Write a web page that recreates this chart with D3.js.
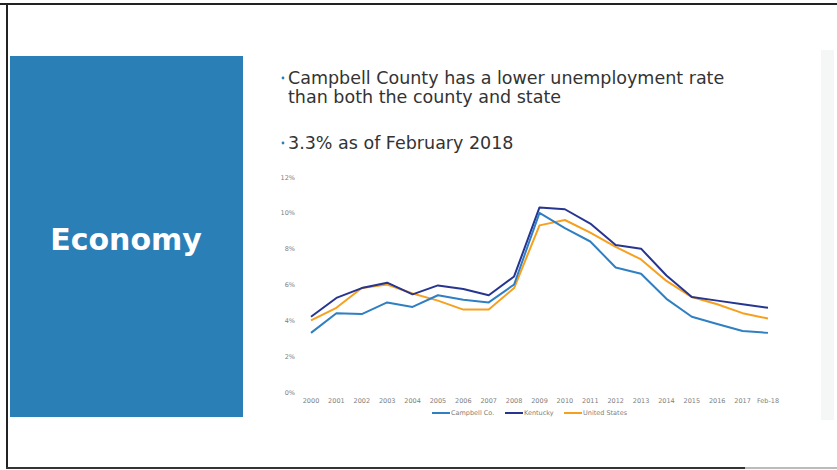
<!DOCTYPE html>
<html>
<head>
<meta charset="utf-8">
<script src="https://cdn.jsdelivr.net/npm/d3@7/dist/d3.min.js"></script>
<style>
  html, body { margin: 0; padding: 0; background: #fff; }
  svg { display: block; }
</style>
</head>
<body>
<div id="slide"></div>
<script>
//data
var years = ['2000','2001','2002','2003','2004','2005','2006','2007','2008','2009',
             '2010','2011','2012','2013','2014','2015','2016','2017','Feb-18'];
var campbell = [3.3, 4.4, 4.35, 5.0, 4.75, 5.4, 5.15, 5.0, 6.0, 10.0, 9.15, 8.4, 6.95, 6.6, 5.2, 4.2, 3.8, 3.4, 3.3];
var kentucky = [4.2, 5.25, 5.8, 6.1, 5.45, 5.95, 5.75, 5.4, 6.45, 10.3, 10.2, 9.4, 8.2, 8.0, 6.5, 5.3, 5.1, 4.9, 4.7];
var usa = [4.0, 4.7, 5.8, 6.0, 5.5, 5.1, 4.6, 4.6, 5.8, 9.3, 9.6, 8.9, 8.1, 7.4, 6.2, 5.3, 4.9, 4.4, 4.1];
var yTicks = [0, 2, 4, 6, 8, 10, 12];
var seriesNames = ['Campbell Co.', 'Kentucky', 'United States'];
//end data

var W = 837, H = 470;
var colors = ['#2f7fc2', '#263590', '#f6a01e'];

var svg = d3.select('#slide').append('svg')
    .attr('width', W)
    .attr('height', H);

// slide frame
svg.append('line').attr('x1', 0).attr('x2', W).attr('y1', 4).attr('y2', 4)
    .attr('stroke', '#222').attr('stroke-width', 2);
svg.append('line').attr('x1', 7).attr('x2', 7).attr('y1', 3).attr('y2', 469)
    .attr('stroke', '#222').attr('stroke-width', 2);
svg.append('line').attr('x1', 6).attr('x2', 745).attr('y1', 468).attr('y2', 468)
    .attr('stroke', '#333').attr('stroke-width', 2);
svg.append('line').attr('x1', 745).attr('x2', W).attr('y1', 468).attr('y2', 468)
    .attr('stroke', '#bbb').attr('stroke-width', 2);

// faint scanned strip on the right
svg.append('rect').attr('x', 821).attr('y', 50).attr('width', 13).attr('height', 370)
    .attr('fill', '#f5f6f6');

// title box
svg.append('rect').attr('x', 10).attr('y', 56).attr('width', 233).attr('height', 361)
    .attr('fill', '#2b7fb7');
svg.append('text')
    .attr('x', 126).attr('y', 250)
    .attr('text-anchor', 'middle')
    .attr('fill', '#fff')
    .style('font-family', 'DejaVu Sans, sans-serif')
    .style('font-weight', 'bold')
    .style('font-size', '30px')
    .text('Economy');

// bullets
var bullets = [
    {y: 84, lines: ['Campbell County has a lower unemployment rate', 'than both the county and state']},
    {y: 149, lines: ['3.3% as of February 2018']}
];
var gBul = svg.append('g')
    .style('font-family', 'DejaVu Sans, sans-serif')
    .style('font-size', '17.5px')
    .attr('fill', '#333');
bullets.forEach(function(b){
    gBul.append('circle').attr('cx', 283).attr('cy', b.y - 6).attr('r', 1.4).attr('fill', '#2b7fb7');
    b.lines.forEach(function(l, i){
        gBul.append('text').attr('x', 288).attr('y', b.y + i * 18.7).text(l);
    });
});

// chart scales
var x = d3.scalePoint().domain(years).range([311, 768]);
var y = d3.scaleLinear().domain([0, 12]).range([392, 177]);

var gChart = svg.append('g')
    .style('font-family', 'DejaVu Sans, sans-serif')
    .style('font-size', '6.5px')
    .attr('fill', '#808080');

gChart.selectAll('text.ytick')
    .data(yTicks)
    .enter().append('text')
    .attr('class', 'ytick')
    .attr('x', 295)
    .attr('y', function(d){ return y(d) + 2.5; })
    .attr('text-anchor', 'end')
    .text(function(d){ return d + '%'; });

gChart.selectAll('text.xtick')
    .data(years)
    .enter().append('text')
    .attr('class', 'xtick')
    .attr('x', function(d){ return x(d); })
    .attr('y', 403)
    .attr('text-anchor', 'middle')
    .text(function(d){ return d; });

var lineFunc = d3.line()
    .x(function(d, i){ return x(years[i]); })
    .y(function(d){ return y(d); });

var allSeries = [campbell, kentucky, usa];
// draw orange first, then navy, then light blue on top
[2, 1, 0].forEach(function(k){
    gChart.append('path')
        .datum(allSeries[k])
        .attr('fill', 'none')
        .attr('stroke', colors[k])
        .attr('stroke-width', 2)
        .attr('stroke-linejoin', 'round')
        .attr('d', lineFunc);
});

// legend
var legendX = [432, 505, 564];
var gLeg = gChart.append('g');
seriesNames.forEach(function(name, i){
    gLeg.append('line')
        .attr('x1', legendX[i]).attr('x2', legendX[i] + 18)
        .attr('y1', 413).attr('y2', 413)
        .attr('stroke', colors[i]).attr('stroke-width', 2);
    gLeg.append('text')
        .attr('x', legendX[i] + 19).attr('y', 415.3)
        .text(name);
});
</script>
</body>
</html>
